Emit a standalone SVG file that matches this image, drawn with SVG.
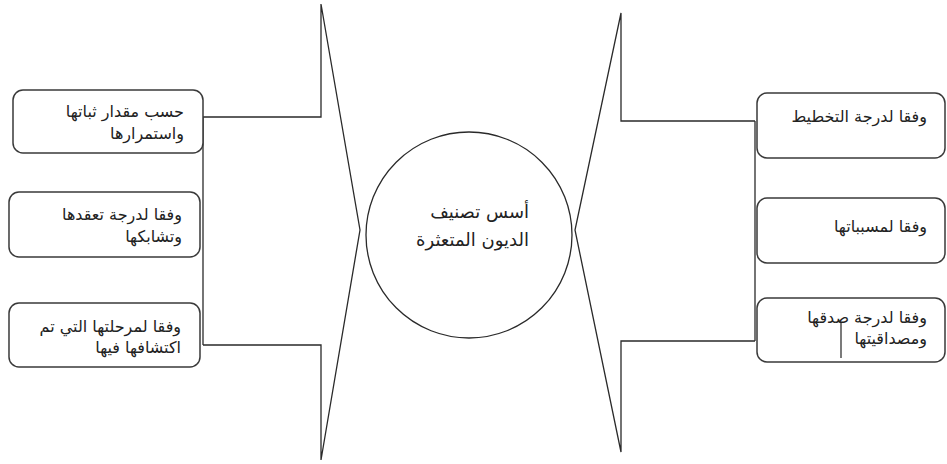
<svg xmlns="http://www.w3.org/2000/svg" width="947" height="464" viewBox="0 0 947 464">
<style>
.box{fill:#fff;stroke:#3a3a3a;stroke-width:1.5}
.ln{fill:none;stroke:#2a2a2a;stroke-width:1.3}
.t{font-family:"DejaVu Sans","Noto Sans",sans-serif;font-size:16px;fill:#222;text-anchor:end}
.tc{font-family:"DejaVu Sans","Noto Sans",sans-serif;font-size:18px;fill:#222;text-anchor:end}
</style>
<rect width="947" height="464" fill="#fff"/>
<g id="connectors">
<polyline class="ln" points="203,117 321,117 321,4 360,230 321,460 321,345 203,345"/>
<polyline class="ln" points="755,121 621,121 621,13 575,230 621,452 621,341 755,341"/>
<line class="ln" x1="203" y1="117" x2="203" y2="345"/>
<line class="ln" x1="755" y1="121" x2="755" y2="341"/>
</g>
<g id="center">
<circle cx="469" cy="235" r="103" fill="none" stroke="#2a2a2a" stroke-width="1.3"/>
<text class="tc" x="529" y="218">أسس تصنيف</text>
<text class="tc" x="529" y="246">الديون المتعثرة</text>
</g>
<g id="left1">
<rect class="box" x="13" y="90" width="190" height="63" rx="10"/>
<text class="t" x="184" y="117">حسب مقدار ثباتها</text>
<text class="t" x="184" y="139">واستمرارها</text>
</g>
<g id="left2">
<rect class="box" x="9" y="192" width="191" height="65" rx="10"/>
<text class="t" x="182" y="220">وفقا لدرجة تعقدها</text>
<text class="t" x="182" y="242">وتشابكها</text>
</g>
<g id="left3">
<rect class="box" x="9" y="303" width="191" height="64" rx="10"/>
<text class="t" x="181" y="332">وفقا لمرحلتها التي تم</text>
<text class="t" x="181" y="353">اكتشافها فيها</text>
</g>
<g id="right1">
<rect class="box" x="757" y="93" width="188" height="65" rx="10"/>
<text class="t" x="927" y="122">وفقا لدرجة التخطيط</text>
</g>
<g id="right2">
<rect class="box" x="757" y="198" width="188" height="65" rx="10"/>
<text class="t" x="927" y="232">وفقا لمسبباتها</text>
</g>
<g id="right3">
<rect class="box" x="757" y="298" width="188" height="64" rx="10"/>
<text class="t" x="927" y="323">وفقا لدرجة صدقها</text>
<text class="t" x="927" y="344">ومصداقيتها</text>
<line x1="841" y1="323" x2="841" y2="358" stroke="#222" stroke-width="1.2"/>
</g>
</svg>
